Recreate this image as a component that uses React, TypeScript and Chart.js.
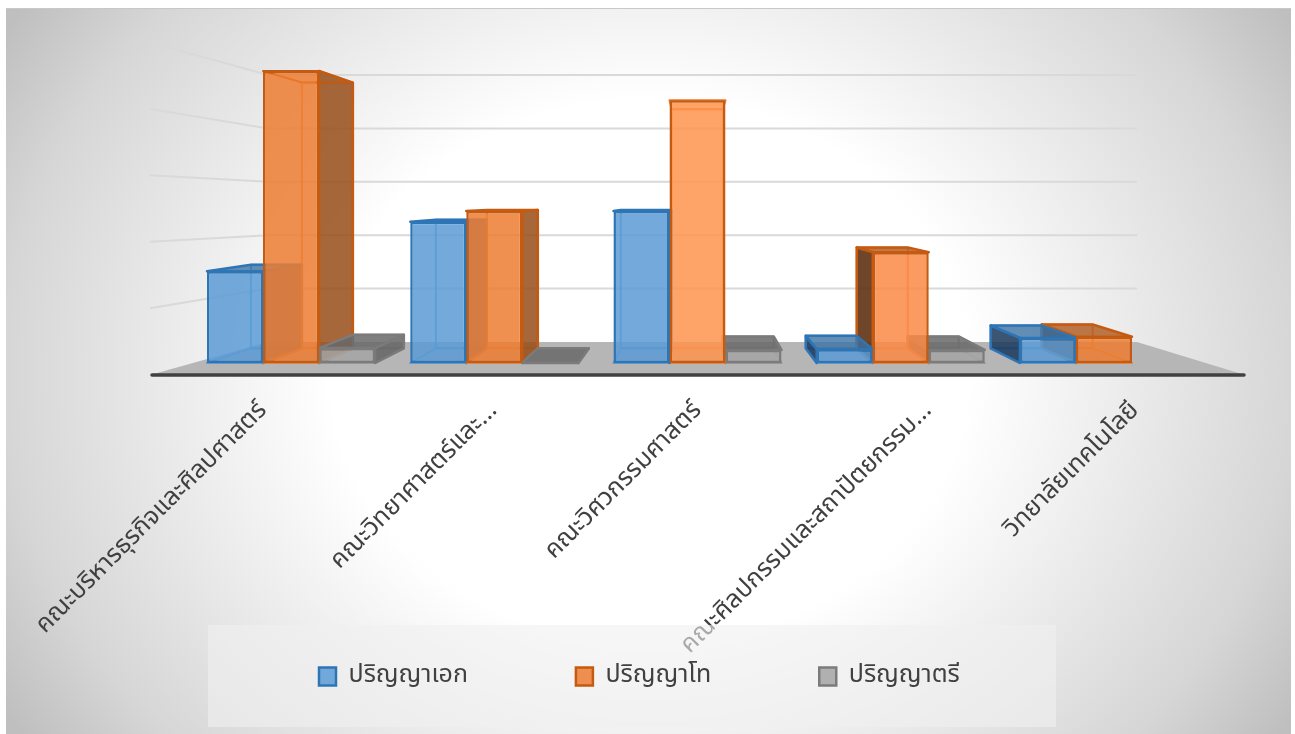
import React, { useEffect, useRef } from "react";
import { Chart, registerables } from "chart.js";

Chart.register(...registerables);

const categories = [
  "คณะบริหารธุรกิจและศิลปศาสตร์",
  "คณะวิทยาศาสตร์และ...",
  "คณะวิศวกรรมศาสตร์",
  "คณะศิลปกรรมและสถาปัตยกรรม...",
  "วิทยาลัยเทคโนโลยี",
];
const doctoral = [15.4, 23.7, 25.5, 2.3, 4.2];
const masters = [49, 25.5, 44.1, 18.6, 4.4];
const bachelors = [2.5, 0, 2.2, 2.2, null];
const seriesNames = ["ปริญญาเอก", "ปริญญาโท", "ปริญญาตรี"];

const FONT = "'Noto Sans Thai','Leelawadee UI','Noto Sans','Open Sans',sans-serif";
const VX = 695, VY = 200, DEPTH = 0.91;
const LABEL_NUDGE = [3, 15, 1, 13, 2];

const FILL = ["rgba(91,155,213,0.85)", "rgba(237,125,49,0.85)", "rgba(165,165,165,0.85)"];
const ORANGE_LIT = ["rgba(237,125,49,0.85)", "rgba(237,125,49,0.85)", "rgba(255,148,78,0.85)", "rgba(250,138,70,0.85)", "rgba(237,125,49,0.85)"];
const EDGE = ["#2e75b6", "#c55a11", "#7b7b7b"];
const INNER = ["#4f93d1", "#ee7a2c", "#909090"];
const TOP = ["rgba(60,115,165,0.8)", "rgba(175,88,28,0.8)", "rgba(105,105,105,0.85)"];
const RIGHT = ["rgba(55,100,145,0.85)", "rgba(150,78,24,0.85)", "rgba(100,100,100,0.85)"];
const LEFT = ["rgba(25,55,90,0.85)", "rgba(95,50,18,0.9)", "rgba(80,80,80,0.85)"];

const proj = (x: number, y: number, s = DEPTH): [number, number] => [VX + s * (x - VX), VY + s * (y - VY)];

function poly(ctx: CanvasRenderingContext2D, pts: [number, number][], fill: string | null, stroke: string, w = 2.5) {
  ctx.beginPath();
  pts.forEach((p, i) => (i ? ctx.lineTo(p[0], p[1]) : ctx.moveTo(p[0], p[1])));
  ctx.closePath();
  if (fill) { ctx.fillStyle = fill; ctx.fill(); }
  ctx.strokeStyle = stroke; ctx.lineWidth = w; ctx.lineJoin = "round"; ctx.stroke();
}

const scenePlugin = {
  id: "scene",
  beforeLayout(chart: any) {
    const l = chart.legend;
    if (l && !l.__wrapped) {
      l.__wrapped = true;
      const up = l.update.bind(l);
      l.update = (...a: any[]) => { up(...a); l.height = 0; };
      const dr = l.draw.bind(l);
      l.draw = (...a: any[]) => {
        const c = chart.ctx;
        c.save();
        c.fillStyle = "rgba(240,240,240,0.6)";
        c.fillRect(208, 625, 848, 102);
        c.restore();
        dr(...a);
      };
    }
  },
  afterLayout(chart: any) {
    const l = chart.legend;
    const pad = l.options.labels.padding;
    const lw = l.lineWidths[0];
    l.right = 1295;
    l.left = 638 + lw - pad - l.right;
    l.width = l.right - l.left;
    l.top = 675 - pad - 11; l.bottom = 800; l.height = l.bottom - l.top;
  },
  beforeDraw(chart: any) {
    const c: CanvasRenderingContext2D = chart.ctx;
    const y = chart.scales.y;
    c.save();
    c.fillStyle = "#ffffff";
    c.fillRect(0, 0, 1295, 734);
    c.save();
    c.beginPath(); c.rect(6, 8, 1285, 726); c.clip();
    c.translate(650, 371); c.scale(1, 0.85);
    const g = c.createRadialGradient(0, 0, 0, 0, 0, 760);
    g.addColorStop(0, "#ffffff");
    g.addColorStop(0.42, "#ffffff");
    g.addColorStop(0.85, "#d6d6d6");
    g.addColorStop(1, "#bfbfbf");
    c.fillStyle = g;
    c.fillRect(-700, -600, 1400, 1200);
    c.restore();
    c.fillStyle = "#c8c8c8"; c.fillRect(6, 8, 1285, 1);
    c.strokeStyle = "#d9d9d9"; c.lineWidth = 2;
    y.ticks.forEach((t: any) => {
      if (!t.value) return;
      const front = y.getPixelForValue(t.value);
      const w = 342 - (363 - front) * 0.896;
      c.beginPath();
      c.moveTo(150, 175 + 1.245 * (w - 181.5));
      c.lineTo(268, w);
      c.lineTo(1137, w);
      c.stroke();
    });
    c.fillStyle = "#b6b6b6";
    c.beginPath(); c.moveTo(150, 375); c.lineTo(268, 342); c.lineTo(1137, 342); c.lineTo(1245, 375); c.closePath(); c.fill();
    c.strokeStyle = "#404040"; c.lineWidth = 3.5; c.lineCap = "round";
    c.beginPath(); c.moveTo(152, 375); c.lineTo(1244, 375); c.stroke();
    c.restore();
  },
  beforeDatasetsDraw(chart: any) {
    const c: CanvasRenderingContext2D = chart.ctx;
    const metas = chart.data.datasets.map((_: any, i: number) => chart.getDatasetMeta(i));
    c.save();
    chart.data.labels.forEach((_: any, i: number) => {
      const cx = metas[1].data[i].x;
      const order = cx < VX ? [0, 1, 2] : [2, 1, 0];
      order.forEach((d) => {
        if (chart.data.datasets[d].data[i] == null) return;
        const b = metas[d].data[i];
        const x0 = b.x - b.width / 2, x1 = b.x + b.width / 2, t = b.y, u = b.base;
        const A = proj(x0, t), B = proj(x1, t), C = proj(x1, u), D = proj(x0, u);
        c.globalAlpha = 0.8;
        poly(c, [A, B, C, D], null, INNER[d], 2);
        poly(c, [[x0, u], [x1, u], C, D], null, INNER[d], 2);
        c.globalAlpha = 1;
        if (x0 > VX) poly(c, [[x0, t], A, D, [x0, u]], LEFT[d], EDGE[d]);
        if (x1 < VX) poly(c, [[x1, t], B, C, [x1, u]], RIGHT[d], EDGE[d]);
        if (t >= VY) poly(c, [[x0, t], [x1, t], B, A], TOP[d], EDGE[d]);
        else poly(c, [[x0, t], [x1, t], B, A], null, d === 1 && i === 0 ? EDGE[d] : INNER[d], 2);
      });
    });
    c.restore();
  },
};

export default function App() {
  const ref = useRef<HTMLCanvasElement>(null);
  useEffect(() => {
    document.body.style.margin = "0";
    const series = [doctoral, masters, bachelors];
    const chart = new Chart(ref.current!, {
      type: "bar",
      plugins: [scenePlugin],
      data: {
        labels: categories,
        datasets: series.map((data, i) => ({
          label: seriesNames[i],
          data,
          backgroundColor: i === 1 ? (ctx: any) => (ctx.dataIndex === undefined ? FILL[1] : ORANGE_LIT[ctx.dataIndex]) : FILL[i],
          borderColor: EDGE[i],
          borderWidth: 2.5,
          borderSkipped: false,
          categoryPercentage: 0.827,
          barPercentage: 1,
        })),
      },
      options: {
        responsive: false,
        animation: false,
        layout: { padding: { left: 189.4, right: 89.4, top: 65, bottom: 0 } },
        scales: {
          x: {
            grid: { display: false, drawTicks: false },
            border: { display: false },
            ticks: {
              z: -1,
              autoSkip: false,
              minRotation: 45,
              maxRotation: 45,
              padding: 34,
              color: "#404040",
              font: { family: FONT, size: 25 },
            },
            afterFit(scale: any) {
              scale.height = 371;
              if (!scale.__p) {
                scale.__p = true;
                const base = scale.getPixelForTick;
                scale.getPixelForTick = (i: number) => VX + 1.074 * (base.call(scale, i) - VX) + LABEL_NUDGE[i];
              }
            },
          },
          y: { display: false, min: 0, max: 50, ticks: { stepSize: 10 } },
        },
        plugins: {
          tooltip: { enabled: false },
          legend: {
            position: "bottom",
            labels: {
              boxWidth: 17,
              boxHeight: 18,
              padding: 108,
              color: "#404040",
              font: { family: FONT, size: 25 },
            },
          },
        },
      },
    } as any);
    return () => chart.destroy();
  }, []);
  return <canvas ref={ref} width={1295} height={734} style={{ display: "block" }} />;
}
